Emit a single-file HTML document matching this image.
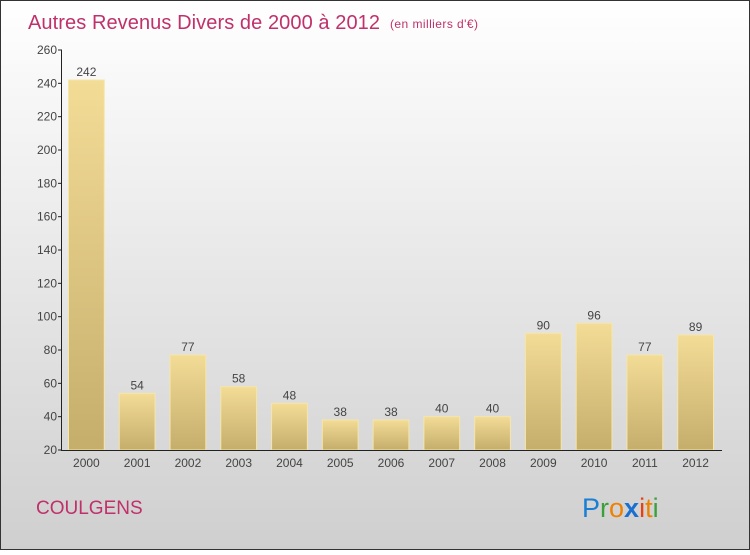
<!DOCTYPE html>
<html><head><meta charset="utf-8"><style>
html,body{margin:0;padding:0;}
body{width:750px;height:550px;overflow:hidden;font-family:"Liberation Sans",sans-serif;}
</style></head><body>
<svg id="chart" width="750" height="550" xmlns="http://www.w3.org/2000/svg">
<defs>
<linearGradient id="bg" x1="0" y1="0" x2="0" y2="1"><stop offset="0" stop-color="#ffffff"/><stop offset="1" stop-color="#cfcfcf"/></linearGradient>
<linearGradient id="bar" x1="0" y1="0" x2="0" y2="1"><stop offset="0" stop-color="#f3dc96"/><stop offset="1" stop-color="#c5ad6c"/></linearGradient>
</defs>
<rect x="0.5" y="0.5" width="749" height="549" fill="url(#bg)" stroke="#333"/>
<text x="28" y="29" font-size="20" fill="#c0306a" textLength="352">Autres Revenus Divers de 2000 à 2012</text>
<text x="390" y="28" font-size="12" fill="#c0306a" textLength="88">(en milliers d'€)</text>
<g id="plot"></g>
<text x="36" y="514" font-size="19" fill="#c0306a">COULGENS</text>
<g font-size="27">
<text x="582" y="517"><tspan fill="#1a7fd4">P</tspan><tspan fill="#3aa03a">r</tspan><tspan fill="#f08000">o</tspan><tspan fill="#1a6fd0" font-weight="bold">x</tspan><tspan fill="#e84010">i</tspan><tspan fill="#f08000">t</tspan><tspan fill="#3aa03a">i</tspan></text>
</g>
</svg>
<script>
const categories=["2000","2001","2002","2003","2004","2005","2006","2007","2008","2009","2010","2011","2012"];
const values=[242,54,77,58,48,38,38,40,40,90,96,77,89];
const ticks=[20,40,60,80,100,120,140,160,180,200,220,240,260];
const NS="http://www.w3.org/2000/svg";
const g=document.getElementById('plot');
const x0=62,x1=722,yTop=50,yBot=450,vMin=20,vMax=260;
const band=(x1-x0)/categories.length;
function y(v){return yBot-(v-vMin)*(yBot-yTop)/(vMax-vMin);}
function xb(i){return x0+i*band;}
function mk(t,a){const e=document.createElementNS(NS,t);for(const k in a)e.setAttribute(k,a[k]);g.appendChild(e);return e;}
values.forEach((v,i)=>{
 const r=mk('rect',{x:xb(i)+6.5,y:y(v),width:band-15,height:yBot-y(v),fill:'url(#bar)',stroke:'#f6e6a8','stroke-width':1});
 
 
 const t=mk('text',{x:xb(i)+6+(band-14)/2,y:y(v)-4,'font-size':12,fill:'#444','text-anchor':'middle'});
 t.textContent=v;
 
 
 const c=mk('text',{x:xb(i)+6+(band-14)/2,y:467,'font-size':12,fill:'#444','text-anchor':'middle'});
 c.textContent=categories[i];
 
 
});
ticks.forEach(t=>{
 const l=mk('line',{x1:58,x2:62,y1:y(t),y2:y(t),stroke:'#222'});
 
 
 const tx=mk('text',{x:57,y:y(t)+4,'font-size':12,fill:'#444','text-anchor':'end'});
 tx.textContent=t;
 
 
});
const ya=mk('line',{x1:61.5,x2:61.5,y1:yTop,y2:yBot,stroke:'#222'});


const xa=mk('line',{x1:61,x2:x1,y1:yBot+0.5,y2:yBot+0.5,stroke:'#222'});


</script>
</body></html>
